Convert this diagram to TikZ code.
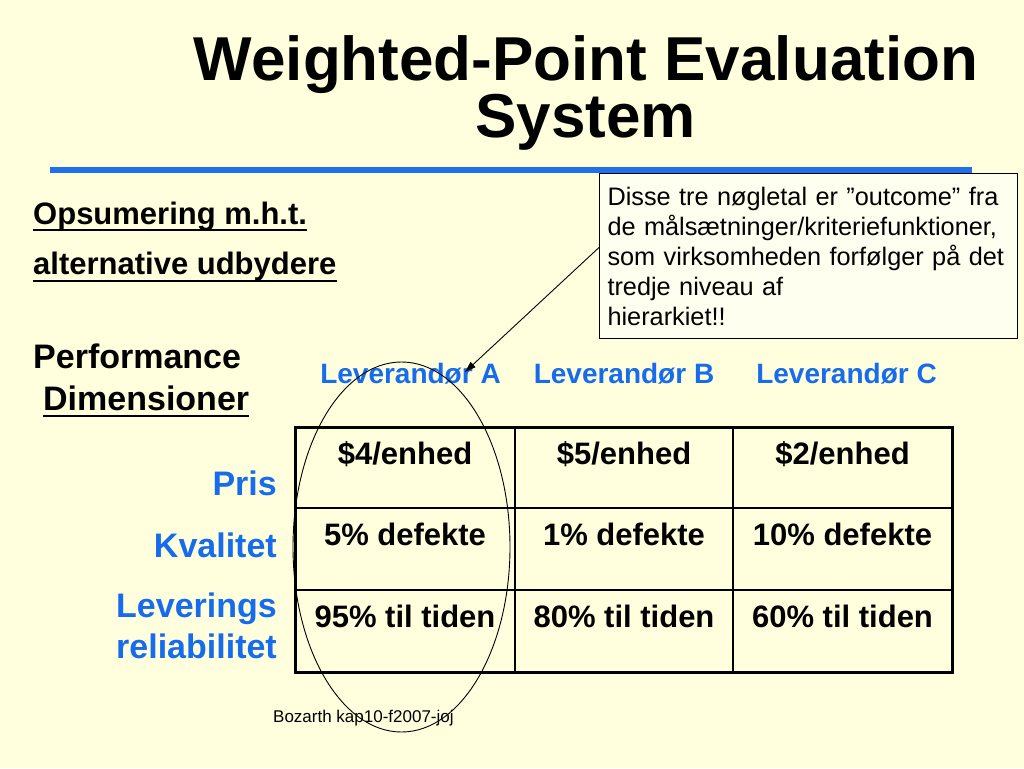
\documentclass[tikz,border=0pt]{standalone}
\usepackage{fontspec}
\setmainfont{Liberation Sans}
\usetikzlibrary{shapes.geometric,calc,arrows.meta}
\definecolor{bgyellow}{RGB}{255,255,221}
\definecolor{hblue}{RGB}{22,108,236}
\definecolor{rulecol}{RGB}{30,112,235}
\definecolor{notefill}{RGB}{255,255,240}
\tikzset{
  titletext/.style={font=\fontsize{62}{62}\selectfont\bfseries, inner sep=0pt, anchor=base},
  headtext/.style={font=\fontsize{#1}{#1}\selectfont\bfseries, inner sep=0pt, anchor=base west},
  rowlabel/.style={font=\fontsize{34}{34}\selectfont\bfseries, text=hblue, inner sep=0pt, anchor=base east},
  colhead/.style={font=\fontsize{28}{28}\selectfont\bfseries, text=hblue, inner sep=0pt, anchor=base},
  celltext/.style={font=\fontsize{31}{31}\selectfont\bfseries, inner sep=0pt, anchor=base},
  ulinestyle/.style={line width=2.3pt},
  notebox/.style={draw=black, line width=1pt, fill=notefill, font=\fontsize{25.3}{30}\selectfont,
    align=left, text width=402pt, inner xsep=8pt, inner ysep=12pt, minimum height=165pt, anchor=north west},
  thinrule/.style={line width=1.5pt},
  thickrule/.style={line width=3pt},
  ring/.style={ellipse, draw=black, line width=0.9pt, minimum width=217pt, minimum height=370pt, inner sep=0pt},
  pointer/.style={line width=0.9pt, -{Triangle[length=11pt,width=7pt]}},
  footer/.style={font=\fontsize{17}{17}\selectfont, inner sep=0pt, anchor=base west}
}
\begin{document}
\begin{tikzpicture}[x=1pt,y=-1pt]
\fill[bgyellow] (0,0) rectangle (1024,768);
\useasboundingbox (0,0) rectangle (1024,768);

% title
\node[titletext] (title1) at (586,80) {Weighted-Point Evaluation};
\node[titletext] (title2) at (585.5,137) {System};
\draw[rulecol, line width=6pt] (50,170) -- (972,170);

% left headings
\node[headtext=31] (opsum) at (33,224) {Opsumering m.h.t.};
\draw[ulinestyle] ($(opsum.base west)+(0,6)$) -- ($(opsum.base east)+(0,6)$);
\node[headtext=31] (alt) at (33,274) {alternative udbydere};
\draw[ulinestyle] ($(alt.base west)+(0,7)$) -- ($(alt.base east)+(0,7)$);
\node[headtext=34] (perf) at (33,368) {Performance};
\node[headtext=34] (dims) at (43,410) {Dimensioner};
\draw[ulinestyle] ($(dims.base west)+(0,6)$) -- ($(dims.base east)+(0,6)$);

% callout
\node[notebox] (note) at (599,173) {Disse tre nøgletal er ”outcome” fra\\
de målsætninger/kriteriefunktioner,\\
som virksomheden forfølger på det\\
tredje niveau af\\
hierarkiet!!};

% column headers
\node[colhead] (levA) at (410.5,383) {Leverandør A};
\node[colhead] (levB) at (624,383) {Leverandør B};
\node[colhead] (levC) at (846.5,383) {Leverandør C};

% row labels
\node[rowlabel] (pris) at (277,495) {Pris};
\node[rowlabel] (kval) at (277,557) {Kvalitet};
\node[rowlabel] (lev1) at (277,617) {Leverings};
\node[rowlabel] (lev2) at (277,658) {reliabilitet};

% table grid
\draw[thinrule] (295,508) -- (952,508);
\draw[thinrule] (295,590) -- (952,590);
\draw[thinrule] (515,427) -- (515,672);
\draw[thinrule] (733,427) -- (733,672);
\draw[thickrule] (295,427) rectangle (952,672);

% cells
\node[celltext] (a1) at (405,464) {\$4/enhed};
\node[celltext] (b1) at (624,464) {\$5/enhed};
\node[celltext] (c1) at (842.5,464) {\$2/enhed};
\node[celltext] (a2) at (405,545) {5\% defekte};
\node[celltext] (b2) at (624,545) {1\% defekte};
\node[celltext] (c2) at (842.5,545) {10\% defekte};
\node[celltext] (a3) at (405,627) {95\% til tiden};
\node[celltext] (b3) at (624,627) {80\% til tiden};
\node[celltext] (c3) at (842.5,627) {60\% til tiden};

% ellipse and arrow
\node[ring] (oval) at (401.5,547) {};
\coordinate (tipA) at (465,372);
\draw[pointer] ($(note.west)+(0,-8.5)$) -- (tipA);

% footer
\node[footer] (foot) at (273,722) {Bozarth kap10-f2007-joj};
\end{tikzpicture}
\end{document}
